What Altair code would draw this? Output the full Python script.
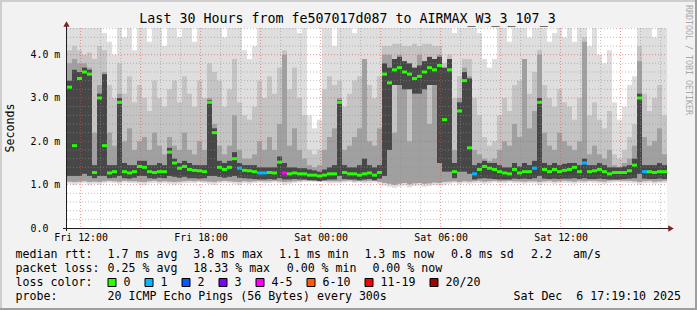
import altair as alt
import pandas as pd

MONO = "DejaVu Sans Mono"

# ---------------- data (15-minute bins over 30 hours, values in ms) ----------------
BIN_H = 0.25
TICK_HOURS = [0.6806, 6.6806, 12.6806, 18.6806, 24.6806]
TICK_LABELS = ["Fri 12:00", "Fri 18:00", "Sat 00:00", "Sat 06:00", "Sat 12:00"]
Y_TICKS = [0, 1, 2, 3, 4]

LOSS_LABELS = ["0", "1", "2", "3", "4-5", "6-10", "11-19", "20/20"]
LOSS_COLORS = ["#26ff00", "#00b8ff", "#0059ff", "#7e00ff", "#ff00ff", "#ff5a00", "#ff0000", "#a00000"]

MED = [
    3.25, 1.9, 3.45, 3.6, 3.55, 1.28, 3.0, 1.9, 1.27, 1.3, 2.9, 1.3, 1.27, 1.3, 1.42, 1.4, 1.3, 1.28, 1.3, 1.3,
    1.75, 1.5, 1.38, 1.42, 1.35, 1.33, 1.32, 1.3, 2.9, 2.2, 1.4, 1.35, 1.4, 1.6, 1.38, 1.33, 1.32, 1.3, 1.27, 1.27,
    1.28, 1.27, 1.52, 1.27, 1.25, 1.27, 1.25, 1.25, 1.22, 1.22, 1.2, 1.22, 1.25, 1.25, 2.9, 1.28, 1.25, 1.25, 1.22, 1.25,
    1.27, 1.22, 1.28, 3.55, 3.35, 3.65, 3.7, 3.6, 3.55, 3.45, 3.5, 3.6, 3.7, 3.65, 3.75, 2.5, 3.65, 1.3, 2.7, 3.4,
    1.85, 1.25, 1.35, 1.42, 1.38, 1.35, 1.3, 1.27, 1.25, 1.35, 1.27, 1.3, 1.3, 1.38, 2.9, 1.35, 1.3, 1.35, 1.3, 1.33,
    1.35, 1.4, 1.3, 1.5, 1.3, 1.32, 1.35, 1.3, 1.25, 1.28, 1.28, 1.28, 1.32, 1.45, 3.0, 1.3, 1.3, 1.28, 1.3, 1.3,
]
LOSS = [
    0, 0, 0, 0, 0, 0, 0, 0, 0, 0, 0, 0, 0, 0, 0, 0, 0, 0, 0, 0,
    0, 0, 0, 0, 0, 0, 0, 0, 0, 0, 0, 0, 0, 0, 1, 0, 0, 0, 1, 1,
    0, 0, 0, 4, 0, 0, 0, 0, 0, 0, 0, 0, 0, 0, 0, 0, 0, 0, 0, 0,
    0, 0, 0, 0, 0, 0, 0, 0, 0, 0, 0, 0, 0, 0, 0, 0, 0, 0, 0, 0,
    0, 1, 0, 0, 0, 0, 0, 0, 0, 0, 0, 0, 0, 1, 0, 0, 0, 0, 0, 0,
    0, 0, 0, 1, 0, 0, 0, 0, 0, 0, 0, 0, 0, 0, 0, 1, 0, 0, 0, 0,
]
# smoke: lightest band LO1..H1, mid band LO2..H2, dark band LO2..H3, darkest LO4..H4
H1 = [
    4.62, 4.62, 4.62, 4.62, 4.62, 4.62, 4.62, 4.5, 4.3, 4.0, 4.62, 4.4, 4.62, 4.1, 4.62, 4.62, 4.3, 4.62, 4.62, 4.2,
    4.62, 4.62, 4.4, 4.62, 4.62, 4.3, 4.62, 4.62, 4.62, 4.62, 4.62, 4.4, 4.62, 4.62, 4.62, 4.1, 3.9, 4.2, 4.62, 4.62,
    4.62, 4.62, 4.62, 4.62, 4.62, 4.62, 4.5, 4.62, 2.6, 2.3, 2.5, 4.62, 4.62, 4.2, 4.62, 4.62, 4.62, 4.5, 4.62, 4.62,
    4.62, 4.62, 4.62, 4.62, 4.62, 4.62, 4.62, 4.62, 4.62, 4.62, 4.62, 4.62, 4.62, 4.62, 4.62, 4.62, 4.62, 4.5, 4.62, 4.62,
    4.62, 4.62, 4.5, 3.9, 3.7, 3.9, 4.62, 4.62, 4.3, 4.62, 4.62, 4.62, 4.4, 4.62, 4.62, 4.62, 4.3, 4.5, 4.62, 4.4,
    4.62, 4.3, 4.62, 4.62, 4.2, 4.62, 4.0, 3.8, 4.1, 2.9, 2.5, 2.8, 3.3, 3.5, 4.62, 4.62, 4.62, 4.4, 4.62, 4.62,
]
H2 = [
    4.1, 4.2, 4.1, 4.0, 4.05, 3.9, 4.2, 4.1, 3.3, 3.0, 3.8, 3.1, 3.5, 2.9, 3.3, 3.0, 2.7, 3.4, 3.0, 2.8,
    3.2, 3.4, 2.9, 3.5, 3.1, 2.8, 3.4, 3.0, 3.8, 3.6, 3.4, 2.8, 3.2, 3.9, 2.9, 2.6, 2.5, 2.8, 3.4, 3.0,
    3.5, 3.1, 3.7, 4.1, 3.2, 3.7, 3.0, 2.6, 1.8, 1.7, 1.8, 3.2, 3.5, 3.3, 3.4, 2.8, 3.1, 3.4, 3.5, 3.9,
    3.3, 3.0, 3.5, 4.2, 4.2, 4.25, 4.25, 4.2, 4.2, 4.25, 4.2, 4.25, 4.25, 4.2, 4.2, 3.8, 4.0, 3.0, 3.5, 3.9,
    3.9, 3.0, 2.6, 2.1, 1.9, 2.0, 2.6, 3.0, 2.7, 3.3, 3.4, 3.7, 3.1, 3.6, 4.1, 3.3, 3.0, 2.8, 3.2, 2.9,
    2.8, 2.5, 3.0, 4.4, 2.6, 2.9, 2.5, 2.3, 2.7, 1.7, 1.6, 1.8, 2.1, 2.4, 4.2, 3.1, 2.7, 3.0, 3.3, 2.6,
]
H3 = [
    3.8, 3.9, 3.8, 3.8, 3.7, 2.2, 3.3, 3.6, 2.2, 1.9, 3.1, 2.0, 2.3, 1.8, 2.0, 2.1, 1.8, 2.2, 1.9, 1.7,
    2.1, 1.9, 1.8, 2.2, 1.8, 1.7, 2.0, 1.8, 3.0, 2.4, 1.9, 1.7, 1.9, 2.6, 1.8, 1.6, 1.6, 1.7, 2.0, 1.8,
    2.1, 1.8, 2.4, 4.0, 1.9, 2.3, 1.8, 1.6, 1.45, 1.4, 1.45, 1.8, 2.1, 2.3, 3.0, 1.8, 1.9, 2.1, 2.3, 3.9,
    2.0, 1.9, 2.3, 4.0, 4.0, 2.2, 4.0, 3.3, 2.0, 3.6, 4.0, 3.4, 2.4, 3.6, 4.0, 3.2, 3.9, 1.8, 3.0, 3.7,
    3.5, 1.8, 1.7, 1.6, 1.55, 1.6, 1.8, 2.0, 1.9, 2.4, 2.1, 3.9, 2.3, 2.7, 4.0, 2.2, 1.9, 1.8, 2.2, 2.0,
    1.9, 1.8, 2.0, 4.3, 1.7, 1.9, 1.7, 1.6, 1.8, 1.45, 1.4, 1.5, 1.6, 1.9, 3.85, 2.1, 1.9, 2.0, 2.3, 1.7,
]
H4 = [
    3.4, 3.65, 3.6, 3.7, 3.65, 1.45, 3.1, 3.55, 1.45, 1.45, 3.0, 1.5, 1.45, 1.45, 1.55, 1.55, 1.45, 1.45, 1.5, 1.45,
    1.85, 1.6, 1.5, 1.55, 1.5, 1.45, 1.45, 1.45, 2.95, 2.3, 1.55, 1.5, 1.55, 1.75, 1.5, 1.45, 1.45, 1.45, 1.4, 1.4,
    1.4, 1.4, 1.65, 1.5, 1.4, 1.4, 1.38, 1.38, 1.35, 1.33, 1.3, 1.35, 1.4, 1.45, 2.95, 1.45, 1.4, 1.4, 1.45, 1.6,
    1.45, 1.4, 1.45, 3.8, 3.7, 3.9, 3.95, 3.85, 3.8, 3.7, 3.75, 3.85, 3.95, 3.9, 3.95, 3.7, 3.9, 1.5, 2.9, 3.6,
    3.45, 1.45, 1.5, 1.55, 1.5, 1.5, 1.45, 1.4, 1.4, 1.5, 1.42, 1.5, 1.45, 1.55, 3.0, 1.5, 1.45, 1.5, 1.45, 1.48,
    1.5, 1.5, 1.45, 1.6, 1.45, 1.45, 1.5, 1.45, 1.4, 1.4, 1.4, 1.42, 1.45, 1.6, 3.1, 1.45, 1.45, 1.45, 1.5, 1.45,
]
LO1 = [
    1.02, 1.0, 1.02, 1.03, 1.0, 1.02, 1.0, 1.03, 1.05, 1.04, 1.02, 1.05, 1.04, 1.03, 1.02, 1.0, 1.03, 1.04, 1.02, 1.03,
    1.02, 1.0, 1.02, 1.03, 1.04, 1.03, 1.05, 1.04, 1.02, 1.0, 1.03, 1.05, 1.04, 1.02, 1.0, 1.03, 1.02, 1.04, 1.05, 1.03,
    1.04, 1.05, 1.03, 1.0, 1.02, 1.04, 1.05, 1.06, 1.07, 1.06, 1.07, 1.05, 1.03, 1.04, 1.03, 1.05, 1.06, 1.04, 1.05, 1.03,
    1.04, 1.05, 1.02, 0.98, 0.95, 0.93, 0.96, 0.98, 0.94, 0.97, 0.98, 0.95, 0.97, 0.99, 0.98, 1.0, 1.02, 1.04, 1.01, 1.03,
    1.02, 1.03, 1.04, 1.02, 1.03, 1.05, 1.04, 1.03, 1.05, 1.04, 1.03, 1.02, 1.04, 1.03, 1.0, 1.03, 1.04, 1.02, 1.03, 1.04,
    1.03, 1.02, 1.04, 1.03, 1.05, 1.04, 1.03, 1.02, 1.04, 1.05, 1.06, 1.05, 1.04, 1.03, 1.0, 1.03, 1.04, 1.02, 1.03, 1.04,
]
LO2 = [
    1.07, 1.06, 1.07, 1.08, 1.06, 1.07, 1.06, 1.08, 1.09, 1.08, 1.07, 1.09, 1.08, 1.08, 1.07, 1.06, 1.08, 1.09, 1.07, 1.08,
    1.07, 1.06, 1.07, 1.08, 1.09, 1.08, 1.09, 1.08, 1.07, 1.06, 1.08, 1.09, 1.08, 1.07, 1.06, 1.08, 1.07, 1.08, 1.09, 1.08,
    1.08, 1.09, 1.08, 1.06, 1.07, 1.08, 1.09, 1.1, 1.1, 1.09, 1.1, 1.09, 1.08, 1.08, 1.08, 1.09, 1.1, 1.08, 1.09, 1.08,
    1.09, 1.09, 1.07, 1.04, 1.02, 1.0, 1.02, 1.04, 1.01, 1.03, 1.04, 1.02, 1.03, 1.05, 1.04, 1.06, 1.07, 1.08, 1.06, 1.08,
    1.07, 1.08, 1.09, 1.07, 1.08, 1.09, 1.08, 1.08, 1.09, 1.08, 1.08, 1.07, 1.08, 1.08, 1.06, 1.08, 1.09, 1.07, 1.08, 1.09,
    1.08, 1.07, 1.09, 1.08, 1.09, 1.09, 1.08, 1.07, 1.09, 1.1, 1.1, 1.09, 1.09, 1.08, 1.06, 1.08, 1.09, 1.07, 1.08, 1.09,
]
LO4 = [
    1.2, 1.2, 1.2, 1.25, 1.2, 1.15, 1.2, 1.2, 1.15, 1.16, 1.2, 1.15, 1.14, 1.16, 1.2, 1.2, 1.15, 1.14, 1.16, 1.15,
    1.2, 1.18, 1.16, 1.18, 1.15, 1.15, 1.14, 1.15, 1.2, 1.2, 1.18, 1.16, 1.18, 1.2, 1.16, 1.15, 1.14, 1.13, 1.12, 1.12,
    1.13, 1.12, 1.15, 1.12, 1.12, 1.13, 1.12, 1.12, 1.1, 1.1, 1.08, 1.1, 1.12, 1.12, 1.2, 1.13, 1.12, 1.12, 1.1, 1.12,
    1.13, 1.1, 1.14, 1.2, 1.8, 3.3, 3.3, 3.2, 3.2, 3.1, 3.1, 3.2, 3.3, 3.3, 1.5, 1.3, 1.3, 1.15, 1.3, 1.3,
    1.25, 1.12, 1.14, 1.15, 1.14, 1.13, 1.12, 1.12, 1.12, 1.14, 1.13, 1.14, 1.13, 1.15, 1.2, 1.14, 1.13, 1.14, 1.13, 1.14,
    1.14, 1.15, 1.13, 1.15, 1.13, 1.13, 1.14, 1.13, 1.12, 1.12, 1.12, 1.13, 1.14, 1.15, 1.25, 1.14, 1.13, 1.13, 1.14, 1.13,
]

TITLE = "Last 30 Hours from fe507017d087 to AIRMAX_W3_3_107_3"
LINE_RTT = [("median rtt:", 15.6), ("1.7 ms avg", 107.6), ("3.8 ms max", 193.3), ("1.1 ms min", 279.0),
            ("1.3 ms now", 364.4), ("0.8 ms sd", 451.0), ("2.2", 531.0), ("am/s", 573.0)]
LINE_LOSS = [("packet loss:", 15.6), ("0.25 % avg", 107.6), ("18.33 % max", 193.3),
             ("0.00 % min", 286.7), ("0.00 % now", 372.4)]
PROBE = "20 ICMP Echo Pings (56 Bytes) every 300s"
STAMP = "Sat Dec\u00a0\u00a06 17:19:10 2025"

# ---------------- layout constants ----------------
OX, OY = 67, 28          # plot origin on the 697x310 canvas
W, H = 600, 200

n = len(MED)
df = pd.DataFrame({
    "t0": [i * BIN_H for i in range(n)],
    "t1": [(i + 1) * BIN_H for i in range(n)],
    "tc": [(i + 0.5) * BIN_H for i in range(n)],
    "med": MED, "loss": [LOSS_LABELS[k] for k in LOSS],
    "lo1": LO1, "lo2": LO2, "lo4": LO4, "h1": H1, "h2": H2, "h3": H3, "h4": H4,
})

XS = alt.Scale(domain=[0, 30], nice=False, zero=False)
YS = alt.Scale(domain=[0, 4.615], nice=False, zero=False)
lab_expr = "[" + ",".join("'%s'" % s for s in TICK_LABELS) + "][round((datum.value-%s)/6)]" % TICK_HOURS[0]
XA = alt.Axis(values=TICK_HOURS, labelExpr=lab_expr, ticks=False, tickSize=0, domain=False, grid=False,
              title=None, labelFont=MONO, labelFontSize=9.9, labelColor="#000", labelPadding=4,
              labelAngle=0, labelFlush=False, labelOverlap=False)
YA = alt.Axis(values=Y_TICKS, labelExpr="datum.value == 0 ? '0.0' : format(datum.value, '.1f') + ' m'",
              ticks=False, tickSize=0, domain=False, grid=False, title=None, labelFont=MONO,
              labelFontSize=9.9, labelColor="#000", labelAlign="left", labelPadding=37,
              labelBaseline="middle", labelFlush=False)

base = alt.Chart(df)
layers = []
for lo, hi, col in [("lo1", "h1", "#dedede"), ("lo2", "h2", "#c4c4c4"),
                    ("lo2", "h3", "#a0a0a0"), ("lo4", "h4", "#474747")]:
    layers.append(base.mark_rect(color=col, clip=True).encode(
        x=alt.X("t0:Q", scale=XS, axis=XA), x2="t1:Q",
        y=alt.Y(lo + ":Q", scale=YS, axis=YA), y2=hi + ":Q"))

# grid
gx_minor = [TICK_HOURS[0] + k for k in range(30) if k % 3 != 0]
gx_major = [TICK_HOURS[0] + 3 * k for k in range(10)]
gy_minor = [round(0.2 * k, 2) for k in range(1, 24) if k % 5 != 0]
gy_major = [1, 2, 3, 4]
for vals, col, op in [(gx_minor, "#8f8f8f", 0.55), (gx_major, "#de4f4f", 0.6)]:
    layers.append(alt.Chart(pd.DataFrame({"v": vals})).mark_rule(
        color=col, opacity=op, strokeDash=[1, 2], strokeWidth=1).encode(
        x=alt.X("v:Q", scale=XS, axis=XA), y=alt.value(0), y2=alt.value(H)))
for vals, col, op in [(gy_minor, "#8f8f8f", 0.55), (gy_major, "#de4f4f", 0.6)]:
    layers.append(alt.Chart(pd.DataFrame({"v": vals})).mark_rule(
        color=col, opacity=op, strokeDash=[1, 2], strokeWidth=1).encode(
        y=alt.Y("v:Q", scale=YS, axis=YA), x=alt.value(0), x2=alt.value(W)))

# medians
layers.append(base.mark_tick(orient="horizontal", thickness=3, size=5, opacity=1, clip=True).encode(
    x=alt.X("tc:Q", scale=XS, axis=XA), y=alt.Y("med:Q", scale=YS, axis=YA),
    color=alt.Color("loss:N", scale=alt.Scale(domain=LOSS_LABELS, range=LOSS_COLORS), legend=None)))

one = pd.DataFrame({"a": [0]})


def txt(s, x, y, size=11.6, align="left", color="#000", angle=0):
    return alt.Chart(one).mark_text(text=s, align=align, baseline="middle", font=MONO,
                                    fontSize=size, color=color, angle=angle).encode(
        x=alt.value(x - OX), y=alt.value(y - OY))


def box(x0, y0, x1, y1, fill, stroke=None):
    kw = dict(fill=fill)
    if stroke:
        kw.update(stroke=stroke, strokeWidth=1)
    return alt.Chart(one).mark_rect(**kw).encode(
        x=alt.value(x0 - OX), x2=alt.value(x1 - OX), y=alt.value(y0 - OY), y2=alt.value(y1 - OY))


# axes with arrows
layers.append(alt.Chart(one).mark_rule(color="#1f1f1f", strokeWidth=1).encode(
    x=alt.value(-4), x2=alt.value(602), y=alt.value(H + 0.5)))
layers.append(alt.Chart(one).mark_rule(color="#1f1f1f", strokeWidth=1).encode(
    x=alt.value(-0.5), y=alt.value(H + 3), y2=alt.value(-2)))
layers.append(alt.Chart(one).mark_point(shape="triangle-right", filled=True, color="#801f1f",
                                        size=40, opacity=1).encode(x=alt.value(604), y=alt.value(H + 0.5)))
layers.append(alt.Chart(one).mark_point(shape="triangle-up", filled=True, color="#801f1f",
                                        size=40, opacity=1).encode(x=alt.value(-0.5), y=alt.value(-4)))

# texts
layers.append(txt(TITLE, 347.5, 19, size=13.3, align="center"))
layers.append(txt("Seconds", 11, 128, angle=270, align="center"))
layers.append(txt("RRDTOOL / TOBI OETIKER", 688, 5, size=8.3, color="#a8a8a8", angle=90))
for s, x in LINE_RTT:
    layers.append(txt(s, x, 254.5))
for s, x in LINE_LOSS:
    layers.append(txt(s, x, 268.5))
layers.append(txt("loss color:", 15.6, 282.5))
bx = 108.0
for lab, col in zip(LOSS_LABELS, LOSS_COLORS):
    layers.append(box(bx, 278.5, bx + 8, 286.5, col, "#000"))
    layers.append(txt(lab, bx + 15.5, 282.5))
    bx += 37 + 7 * (len(lab) - 1)
layers.append(txt("probe:", 15.6, 296.5))
layers.append(txt(PROBE, 107.6, 296.5))
layers.append(txt(STAMP, 681, 296.5, align="right"))

# 3-D frame around the canvas
layers.append(box(0, 0, 697, 2, "#cecece"))
layers.append(box(0, 0, 2, 310, "#cecece"))
layers.append(box(0, 308, 697, 310, "#9e9e9e"))
layers.append(box(695, 0, 697, 310, "#9e9e9e"))

chart = alt.layer(*layers).properties(
    width=W, height=H,
    padding={"left": OX, "top": OY, "right": 697 - OX - W, "bottom": 310 - OY - H},
    autosize=alt.AutoSizeParams(type="none"),
    background="#f2f2f2",
).configure_view(fill="white", stroke=None)

chart.save("out.html", embed_options={"renderer": "svg", "actions": False})
